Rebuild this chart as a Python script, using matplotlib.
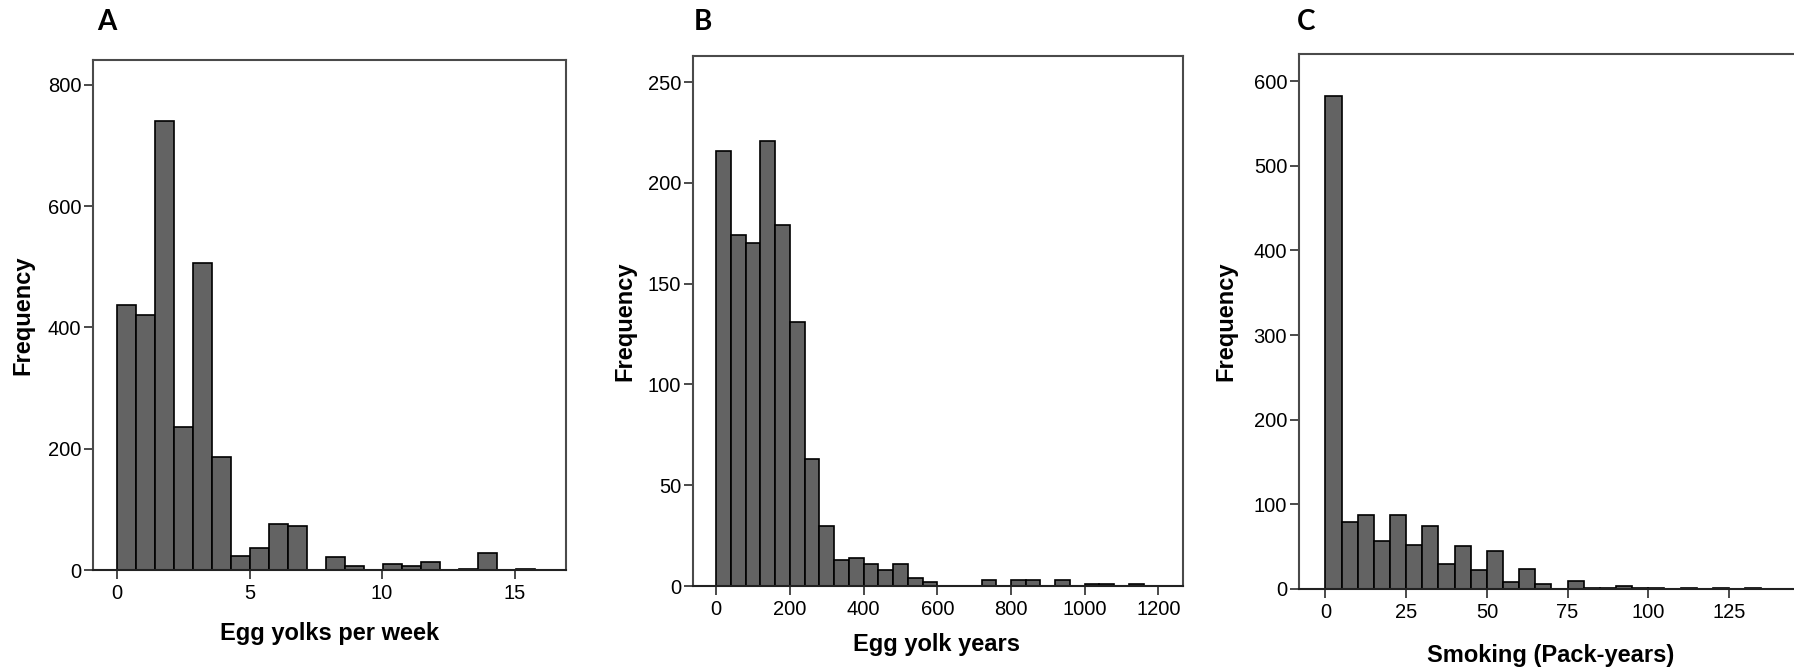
import numpy as np
import matplotlib
matplotlib.use("Agg")
from matplotlib import pyplot as plt

plt.rcParams['font.family'] = ['Liberation Sans', 'DejaVu Sans']

# A: egg yolks per week
yolks_bin_start = 0.0
yolks_bin_width = 0.716
yolks_counts = [437, 420, 741, 235, 507, 187, 23, 37, 76, 73, 0,
                22, 6, 0, 10, 7, 14, 0, 1, 28, 0, 1]

# B: egg yolk years
yolk_years_bin_start = 0
yolk_years_bin_width = 40
yolk_years_counts = [216, 174, 170, 221, 179, 131, 63, 30, 13, 14, 11, 8, 11, 4, 2,
                     0, 0, 0, 3, 0, 3, 3, 0, 3, 0, 1, 1, 0, 1]

# C: smoking pack-years
pack_bin_start = 0
pack_bin_width = 5
pack_counts = [582, 79, 87, 57, 87, 52, 75, 30, 51, 23, 45, 8, 24, 6, 0,
               10, 1, 1, 4, 1, 1, 0, 1, 0, 1, 0, 1]

W, H = 1794, 672
BAR = '#636363'
FRAME = '#4a4a4a'


def px_axes(left, top, right, bottom):
    return fig.add_axes([left / W, 1 - bottom / H, (right - left) / W, (bottom - top) / H])


def histo(ax, start, width, counts, xlim, ylim, xticks, yticks, xlabel,
          xlab_xy, ylab_xy):
    edges = start + width * np.arange(len(counts))
    ax.bar(edges, counts, width=width, align='edge', color=BAR,
           edgecolor='black', linewidth=1.2)
    ax.set_xlim(*xlim)
    ax.set_ylim(*ylim)
    ax.set_xticks(xticks)
    ax.set_yticks(yticks)
    for s in ax.spines.values():
        s.set_color(FRAME)
        s.set_linewidth(1.5)
    ax.spines['bottom'].set_color('#222222')
    ax.tick_params(direction='out', length=6.5, width=1.4, color=FRAME,
                   labelsize=14.5, pad=2)
    ax.tick_params(axis='x', pad=3.5)
    ax.set_xlabel(xlabel, fontsize=17, fontweight='bold', va='center')
    ax.set_ylabel('Frequency', fontsize=17, fontweight='bold', va='center')
    ax.xaxis.set_label_coords(*xlab_xy)
    ax.yaxis.set_label_coords(*ylab_xy)


fig = plt.figure(figsize=(W / 100, H / 100), dpi=100)

axA = px_axes(93, 60, 566, 570)
histo(axA, yolks_bin_start, yolks_bin_width, yolks_counts,
      (-0.91, 16.94), (0, 841), [0, 5, 10, 15], [0, 200, 400, 600, 800],
      'Egg yolks per week', (0.5, -0.124), (-0.148, 0.5))

axB = px_axes(693, 56, 1182.5, 586)
histo(axB, yolk_years_bin_start, yolk_years_bin_width, yolk_years_counts,
      (-63.2, 1265.5), (0, 263), [0, 200, 400, 600, 800, 1000, 1200],
      [0, 50, 100, 150, 200, 250],
      'Egg yolk years', (0.498, -0.111), (-0.139, 0.5))

axC = px_axes(1299, 54, 1800, 589)
histo(axC, pack_bin_start, pack_bin_width, pack_counts,
      (-8.2, 147), (0, 632), [0, 25, 50, 75, 100, 125],
      [0, 100, 200, 300, 400, 500, 600],
      'Smoking (Pack-years)', (0.503, -0.125), (-0.146, 0.501))

for letter, x in [('A', 107), ('B', 703), ('C', 1306)]:
    fig.text(x / W, 1 - 22 / H, letter, fontsize=20, fontweight='bold',
             family=['Lato', 'DejaVu Sans'], ha='center', va='center')

fig.savefig('out.png', dpi=100)
